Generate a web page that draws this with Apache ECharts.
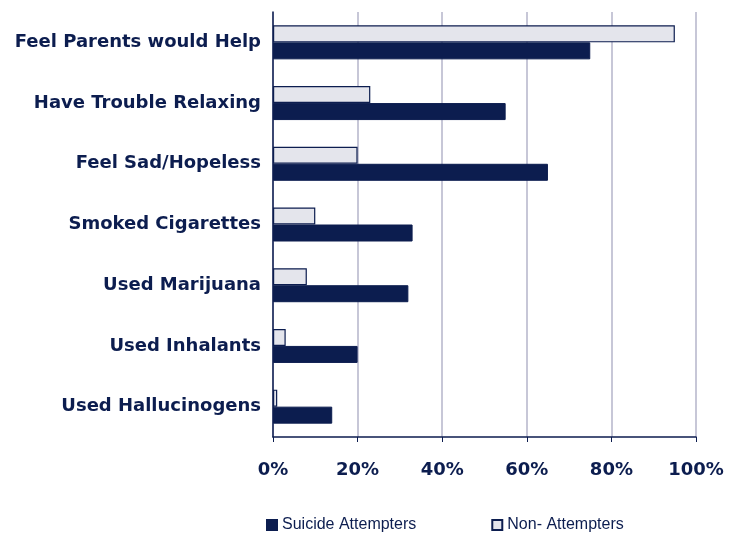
<!DOCTYPE html>
<html><head><meta charset="utf-8">
<script src="https://cdn.jsdelivr.net/npm/echarts@6/dist/echarts.min.js"></script>
<style>html,body{margin:0;padding:0;background:#fff}#c{width:739px;height:534px}</style>
</head><body><div id="c"></div>
<script>
const categories = ["Feel Parents would Help","Have Trouble Relaxing","Feel Sad/Hopeless","Smoked Cigarettes","Used Marijuana","Used Inhalants","Used Hallucinogens"];
const attempters = [75,55,65,33,32,20,14];
const nonAttempters = [95,23,20,10,8,3,1];
const xTicks = [0,20,40,60,80,100];
const navy = "#0c1d4f";
const chart = echarts.init(document.getElementById('c'));
chart.setOption({
  animation:false,
  grid:{left:273,right:43,top:12,bottom:97,containLabel:false},
  legend:{
    top:512,left:261,itemWidth:10,itemHeight:10,itemGap:75,
    textStyle:{fontFamily:"Liberation Sans",fontSize:16,color:navy},
    data:[{name:"Suicide Attempters",icon:"rect"},{name:"Non- Attempters",icon:"rect"}]
  },
  xAxis:{type:'value',min:xTicks[0],max:xTicks[xTicks.length-1],interval:xTicks[1]-xTicks[0],
    axisLine:{show:true,lineStyle:{color:navy,width:1.5}},
    axisTick:{show:true,length:5,lineStyle:{color:navy}},
    splitLine:{show:true,lineStyle:{color:"#b4b5ca",width:1.5}},
    axisLabel:{formatter:v=>v+"%",margin:24,fontFamily:"DejaVu Sans",fontWeight:"bold",fontSize:18,color:navy}
  },
  yAxis:{type:'category',data:categories,inverse:true,
    axisLine:{show:true,lineStyle:{color:navy,width:1.5}},
    axisTick:{show:false},
    axisLabel:{margin:12,fontFamily:"DejaVu Sans",fontWeight:"bold",fontSize:18,color:navy}
  },
  series:[
    {name:"Non- Attempters",type:'bar',data:nonAttempters,barWidth:17,barGap:'0%',
     itemStyle:{color:"#e4e5ec",borderColor:navy,borderWidth:1.2}},
    {name:"Suicide Attempters",type:'bar',data:attempters,barWidth:17,barGap:'0%',
     itemStyle:{color:navy,borderColor:navy,borderWidth:1}}
  ]
});
</script></body></html>
